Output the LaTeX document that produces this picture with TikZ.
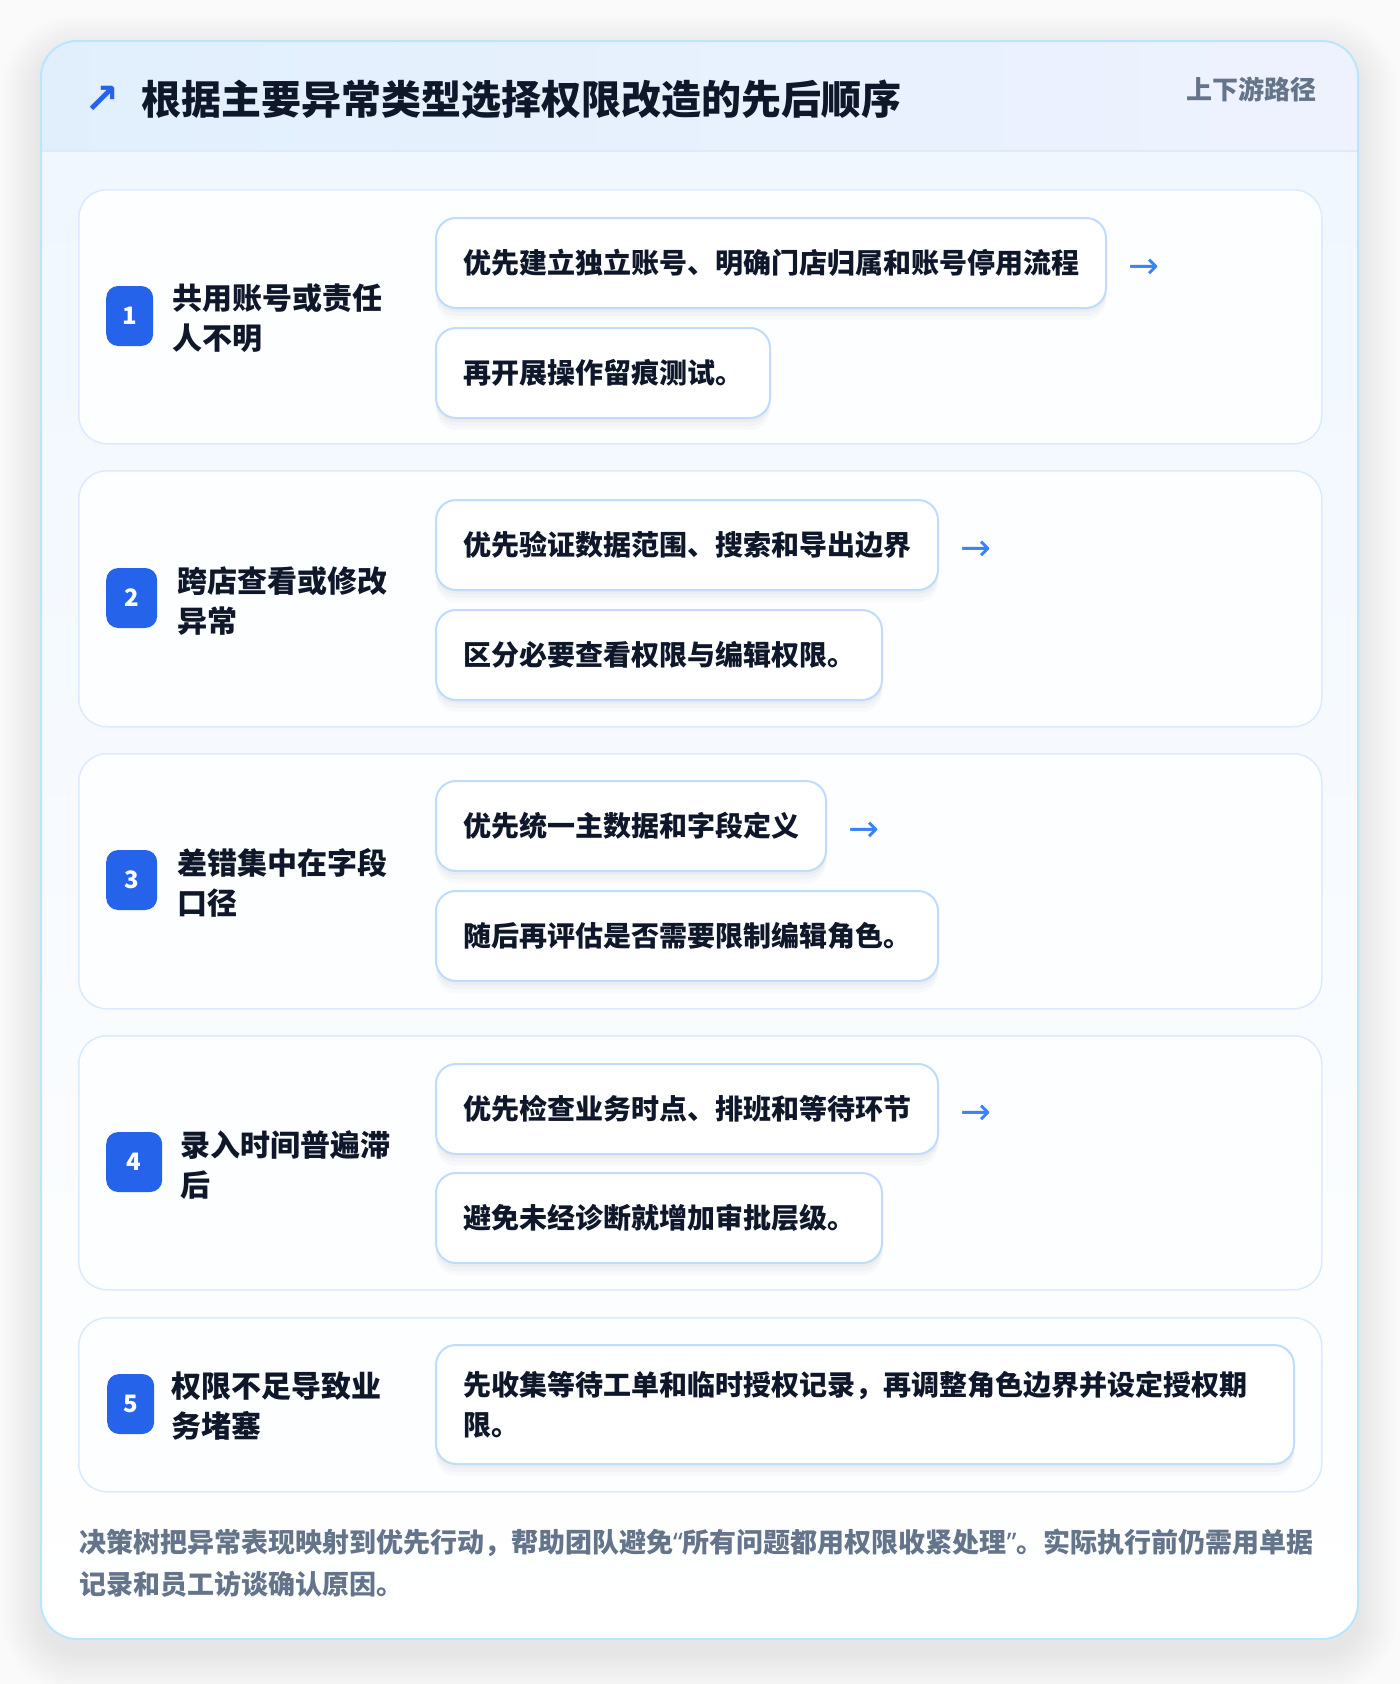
\documentclass[tikz,border=0pt]{standalone}
\usepackage{fontspec}
\setmainfont{Noto Sans CJK SC}
\newfontfamily\symfont{DejaVu Sans}
\newfontfamily\latinfont{Noto Sans}
\usetikzlibrary{shadows}
\definecolor{ink}{HTML}{0F172A}
\definecolor{slate}{HTML}{64748B}
\definecolor{badgeblue}{HTML}{2563EB}
\definecolor{arrowblue}{HTML}{3B82F6}
\definecolor{boxline}{HTML}{BFDBFE}
\definecolor{rowline}{HTML}{DBEAFE}
\definecolor{cardline}{HTML}{BAE6FD}
\definecolor{headL}{HTML}{E1EFFD}
\definecolor{headR}{HTML}{EEF2FE}
\definecolor{headsep}{HTML}{DBEAFE}
\definecolor{bodytop}{HTML}{F0F7FF}
\definecolor{pagebg}{HTML}{FAFAFB}
\definecolor{rowfill}{HTML}{FDFEFF}
\begin{document}
\begin{tikzpicture}[x=1pt,y=-1pt,
  rowcard/.style={draw=rowline, line width=1.5pt, fill=rowfill, rounded corners=28pt,
    minimum width=1243pt, anchor=north west, inner sep=0pt},
  badge/.style={fill=badgeblue, rounded corners=12pt, minimum height=60pt, anchor=west,
    text=white, font=\fontsize{24}{24}\selectfont\bfseries, inner sep=0pt},
  lbl/.style={anchor=west, align=left, text=ink, inner sep=0pt,
    font=\fontsize{30}{40}\selectfont\bfseries},
  softshadow/.style={
    general shadow={fill=black, opacity=0.018, shadow yshift=-12pt},
    general shadow={fill=black, opacity=0.022, shadow yshift=-8pt},
    general shadow={fill=black, opacity=0.025, shadow yshift=-4pt}},
  actbox/.style={draw=boxline, line width=2pt, fill=white, rounded corners=20pt,
    minimum height=90pt, inner xsep=27pt, inner ysep=0pt, anchor=north west, text=ink,
    font=\fontsize{28}{40}\selectfont\bfseries, align=left, softshadow},
  nextarrow/.style={anchor=west, text=arrowblue, inner sep=0pt,
    font=\symfont\fontsize{37}{37}\selectfont},
  title/.style={anchor=west, text=ink, inner sep=0pt, font=\fontsize{40}{48}\selectfont\bfseries},
  tag/.style={anchor=east, text=slate, inner sep=0pt, font=\fontsize{26}{30}\selectfont\bfseries},
  foot/.style={anchor=north west, align=left, text=slate, inner sep=0pt,
    font=\fontsize{27}{42}\selectfont\bfseries}
]
\useasboundingbox (0,0) rectangle (1400,1684);
\fill[pagebg] (0,0) rectangle (1400,1684);
% card shadow
\foreach \i in {1,...,20} {
  \pgfmathsetmacro\rr{36+2*\i}
  \fill[black, opacity=0.0045, rounded corners=\rr pt]
    ({41-2*\i},{41-2*\i+14}) rectangle ({1358+2*\i},{1639+2*\i+14});
}
% card
\begin{scope}
  \clip[rounded corners=36pt] (41,41) rectangle (1358,1639);
  \shade[top color=bodytop, bottom color=white] (41,151) rectangle (1358,1639);
  \shade[left color=headL, right color=headR] (41,41) rectangle (1358,151);
\end{scope}
\draw[headsep, line width=2pt] (42,151) -- (1357,151);
\draw[cardline, line width=2pt, rounded corners=36pt] (41,41) rectangle (1358,1639);

% header
\node[text=badgeblue, inner sep=0pt, font=\symfont\bfseries\fontsize{42}{42}\selectfont] (icon) at (102,100) {↗};
\node[title] (ttl) at (141,99) {根据主要异常类型选择权限改造的先后顺序};
\node[tag] (tg) at (1317,89) {上下游路径};

% row cards
\node[rowcard, minimum height=254pt] (r1) at (78,189) {};
\node[rowcard, minimum height=256pt] (r2) at (78,470) {};
\node[rowcard, minimum height=255pt] (r3) at (78,753) {};
\node[rowcard, minimum height=254pt] (r4) at (78,1035) {};
\node[rowcard, minimum height=174pt] (r5) at (78,1317) {};

% badges
\node[badge, minimum width=47pt] (b1) at (106,316) {1};
\node[badge, minimum width=51pt] (b2) at (106,598) {2};
\node[badge, minimum width=51pt] (b3) at (106,880) {3};
\node[badge, minimum width=56pt] (b4) at (106,1162) {4};
\node[badge, minimum width=47pt] (b5) at (107,1404) {5};

% labels
\node[lbl] (l1) at ([xshift=19pt,yshift=-2pt]b1.east) {共用账号或责任\\人不明};
\node[lbl] (l2) at ([xshift=20pt,yshift=-3pt]b2.east) {跨店查看或修改\\异常};
\node[lbl] (l3) at ([xshift=20pt,yshift=-3pt]b3.east) {差错集中在字段\\口径};
\node[lbl] (l4) at ([xshift=18pt,yshift=-3pt]b4.east) {录入时间普遍滞\\后};
\node[lbl] (l5) at ([xshift=17pt,yshift=-2pt]b5.east) {权限不足导致业\\务堵塞};

% action boxes
\node[actbox] (a11) at (435,217) {优先建立独立账号、明确门店归属和账号停用流程};
\node[actbox] (a12) at (435,327) {再开展操作留痕测试。};
\node[actbox] (a21) at (435,499) {优先验证数据范围、搜索和导出边界};
\node[actbox] (a22) at (435,609) {区分必要查看权限与编辑权限。};
\node[actbox] (a31) at (435,780) {优先统一主数据和字段定义};
\node[actbox] (a32) at (435,890) {随后再评估是否需要限制编辑角色。};
\node[actbox] (a41) at (435,1063) {优先检查业务时点、排班和等待环节};
\node[actbox] (a42) at (435,1172) {避免未经诊断就增加审批层级。};
\node[actbox, minimum height=119pt, text width=804pt] (a5) at (435,1344)
  {先收集等待工单和临时授权记录，再调整角色边界并设定授权期\\限。};

% arrows
\node[nextarrow] (x1) at ([xshift=21pt,yshift=-6pt]a11.east) {→};
\node[nextarrow] (x2) at ([xshift=21pt,yshift=-6pt]a21.east) {→};
\node[nextarrow] (x3) at ([xshift=21pt,yshift=-6pt]a31.east) {→};
\node[nextarrow] (x4) at ([xshift=21pt,yshift=-6pt]a41.east) {→};

% footer
\node[foot] (ft) at (79,1529) {决策树把异常表现映射到优先行动，帮助团队避免{\latinfont“}所有问题都用权限收紧处理{\latinfont”}。实际执行前仍需用单据\\记录和员工访谈确认原因。};
\end{tikzpicture}
\end{document}
